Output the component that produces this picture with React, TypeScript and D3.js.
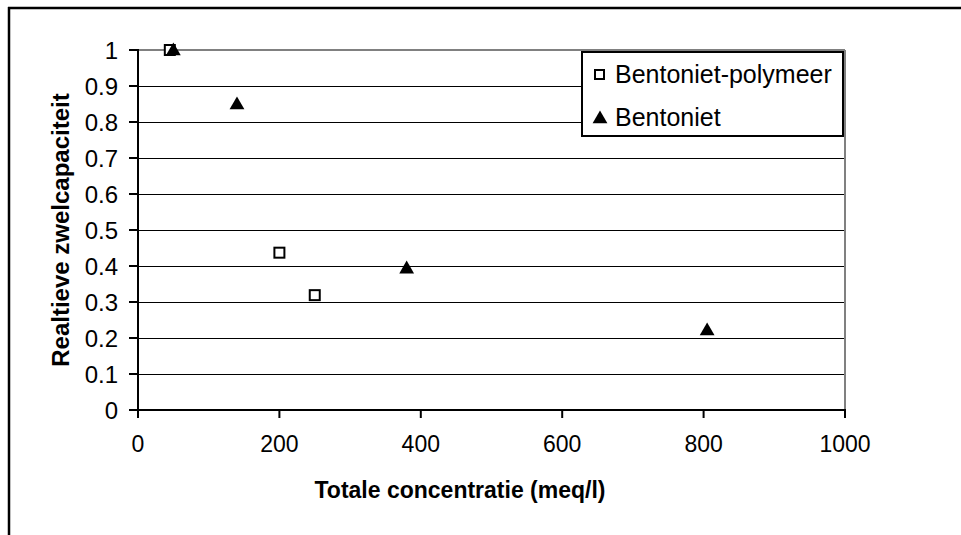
import React from "react";
import * as d3 from "d3";

const xTicks = [0, 200, 400, 600, 800, 1000];
const yTicks = [0, 0.1, 0.2, 0.3, 0.4, 0.5, 0.6, 0.7, 0.8, 0.9, 1];
const polymeerX = [45, 200, 250];
const polymeerY = [1.0, 0.437, 0.319];
const bentonietX = [50, 140, 380, 805];
const bentonietY = [1.0, 0.85, 0.394, 0.222];
const seriesNames = ["Bentoniet-polymeer", "Bentoniet"];
const xTitle = "Totale concentratie (meq/l)";
const yTitle = "Realtieve zwelcapaciteit";

const W = 961, H = 535;
const L = 138, R = 845, T = 50, B = 410;
const font = "'Liberation Sans', Arial, sans-serif";

export default function App() {
  const x = d3.scaleLinear().domain([0, 1000]).range([L, R]);
  const y = d3.scaleLinear().domain([0, 1]).range([B, T]);
  const tri = d3.symbol().type(d3.symbolTriangle).size(95)();
  const sq = 10;

  return (
    <svg width={W} height={H} style={{ position: "absolute", left: 0, top: 0, background: "#fff" }}>
      <rect x={0} y={0} width={W} height={H} fill="#fff" />
      {/* frame */}
      <line x1={8} x2={W} y1={8} y2={8} stroke="#000" strokeWidth={2.5} />
      <line x1={9} x2={9} y1={7} y2={H} stroke="#000" strokeWidth={2.5} />
      {/* gridlines */}
      {yTicks.filter((t) => t > 0 && t < 1).map((t) => (
        <line key={t} x1={L} x2={R} y1={Math.round(y(t)) + 0.5} y2={Math.round(y(t)) + 0.5} stroke="#000" strokeWidth={1} />
      ))}
      <line x1={L} x2={R} y1={y(1)} y2={y(1)} stroke="#808080" strokeWidth={2} />
      <line x1={R} x2={R} y1={T} y2={B} stroke="#808080" strokeWidth={2} />
      {/* axes */}
      <line x1={L} x2={L} y1={T - 1} y2={B} stroke="#000" strokeWidth={2} />
      <line x1={L - 1} x2={R + 1} y1={B} y2={B} stroke="#000" strokeWidth={2} />
      {yTicks.map((t) => (
        <g key={t}>
          <line x1={L - 9} x2={L} y1={y(t)} y2={y(t)} stroke="#000" strokeWidth={2} />
          <text x={118} y={y(t) + 8.5} textAnchor="end" fontFamily={font} fontSize={24}>{String(t)}</text>
        </g>
      ))}
      {xTicks.map((t) => (
        <g key={t}>
          <line x1={x(t)} x2={x(t)} y1={B} y2={B + 8} stroke="#000" strokeWidth={2} />
          <text x={x(t)} y={452} textAnchor="middle" fontFamily={font} fontSize={23}>{String(t)}</text>
        </g>
      ))}
      <text x={460} y={498} textAnchor="middle" fontFamily={font} fontSize={23} fontWeight="bold">{xTitle}</text>
      <text transform={`translate(69,${(T + B) / 2}) rotate(-90)`} textAnchor="middle" fontFamily={font} fontSize={24} fontWeight="bold">{yTitle}</text>
      {/* data */}
      {polymeerX.map((v, i) => (
        <rect key={"p" + i} x={x(v) - sq / 2} y={y(polymeerY[i]) - sq / 2} width={sq} height={sq} fill="#fff" stroke="#000" strokeWidth={2} />
      ))}
      {bentonietX.map((v, i) => (
        <path key={"b" + i} d={tri!} transform={`translate(${x(v)},${y(bentonietY[i]) + 1})`} fill="#000" />
      ))}
      {/* legend */}
      <rect x={582} y={52} width={261} height={84} fill="#fff" stroke="#000" strokeWidth={2} />
      <rect x={595} y={70} width={9} height={9} fill="#fff" stroke="#000" strokeWidth={2} />
      <text x={615} y={83} fontFamily={font} fontSize={25}>{seriesNames[0]}</text>
      <path d={tri!} transform="translate(600,119)" fill="#000" />
      <text x={615} y={126} fontFamily={font} fontSize={25}>{seriesNames[1]}</text>
    </svg>
  );
}
